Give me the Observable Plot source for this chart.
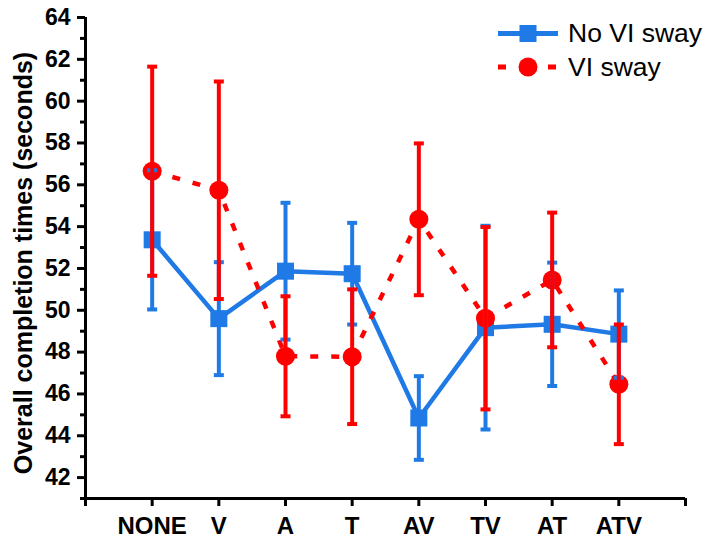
<!DOCTYPE html>
<html>
<head>
<meta charset="utf-8">
<script src="https://cdn.jsdelivr.net/npm/d3@7"></script>
<script src="https://cdn.jsdelivr.net/npm/@observablehq/plot@0.6"></script>
<style>
  html, body { margin: 0; padding: 0; background: #fff; }
  #chart { position: relative; width: 707px; height: 541px; }
</style>
</head>
<body>
<div id="chart"></div>
<script>
// Conditions (x axis categories)
const categories = ["NONE", "V", "A", "T", "AV", "TV", "AT", "ATV"];

// Mean completion time and error (seconds), no VI sway
const noSwayMean = [53.37, 49.60, 51.87, 51.75, 44.85, 49.17, 49.33, 48.86];
const noSwayErr  = [3.33, 2.70, 3.27, 2.43, 2.00, 4.87, 2.95, 2.09];

// Mean completion time and error (seconds), VI sway
const swayMean = [56.65, 55.74, 47.80, 47.78, 54.35, 49.62, 51.45, 46.46];
const swayErr  = [5.00, 5.20, 2.87, 3.22, 3.63, 4.36, 3.22, 2.86];

const seriesNames = ["No VI sway", "VI sway"];
const yTicks = [42, 44, 46, 48, 50, 52, 54, 56, 58, 60, 62, 64];
const yMinorTicks = [41, 43, 45, 47, 49, 51, 53, 55, 57, 59, 61, 63];
const yTitle = "Overall completion times (seconds)";

const BLUE = "#1f7ae6";
const RED = "#ff0000";

const toRows = (mean, err, series) =>
  categories.map((c, i) => ({
    pos: i + 1, label: c, series,
    mean: mean[i], lo: mean[i] - err[i], hi: mean[i] + err[i]
  }));
const noSway = toRows(noSwayMean, noSwayErr, seriesNames[0]);
const sway = toRows(swayMean, swayErr, seriesNames[1]);

const xDomain = [0, categories.length + 1];
const yDomain = [41, 64];

// small flat bar used as the error-bar cap
const capSymbol = { draw(ctx) { ctx.rect(-5, -2, 10, 4); } };

const errorBars = (rows, color) => [
  Plot.ruleX(rows, { x: "pos", y1: "lo", y2: "hi", stroke: color, strokeWidth: 4 }),
  Plot.dot(rows, { x: "pos", y: "lo", symbol: capSymbol, fill: color }),
  Plot.dot(rows, { x: "pos", y: "hi", symbol: capSymbol, fill: color })
];

const chart = Plot.plot({
  width: 707,
  height: 541,
  marginLeft: 85,
  marginRight: 22,
  marginTop: 17,
  marginBottom: 43,
  style: { fontFamily: "'Liberation Sans', Arial, sans-serif", color: "#000", background: "#fff", overflow: "visible" },
  x: { type: "linear", domain: xDomain },
  y: { domain: yDomain },
  marks: [
    // axes
    Plot.axisY({ ticks: yMinorTicks, tickSize: 5, strokeWidth: 3, tickFormat: () => "", label: null }),
    Plot.axisY({ ticks: yTicks, tickSize: 8, strokeWidth: 3, tickPadding: 7, fontSize: 23, fontWeight: "bold", label: null }),
    Plot.axisX({
      ticks: d3.range(xDomain[0], xDomain[1] + 1), tickSize: 8, strokeWidth: 3, tickPadding: 10,
      tickFormat: (i) => categories[i - 1] ?? "", fontSize: 24, fontWeight: "bold", label: null
    }),
    Plot.ruleX([xDomain[0]], { strokeWidth: 3 }),
    Plot.ruleY([yDomain[0]], { strokeWidth: 3 }),
    Plot.text([yTitle], {
      text: (d) => d, frameAnchor: "left", textAnchor: "middle", rotate: -90, dx: -62, dy: 5,
      fontSize: 25, fontWeight: "bold", fill: "#000"
    }),
    // series
    Plot.line(noSway, { x: "pos", y: "mean", stroke: BLUE, strokeWidth: 4.5, strokeLinejoin: "miter" }),
    Plot.dot(noSway, { x: "pos", y: "mean", symbol: "square", fill: BLUE, r: 9.6 }),
    Plot.line(sway, { x: "pos", y: "mean", stroke: RED, strokeWidth: 4.5, strokeDasharray: "8,13", strokeLinecap: "butt" }),
    Plot.dot(sway, { x: "pos", y: "mean", symbol: "circle", fill: RED, r: 9.5 }),
    ...errorBars(noSway, BLUE),
    ...errorBars(sway, RED)
  ]
});

document.getElementById("chart").appendChild(chart);

// legend in the upper right of the plot area
const svg = d3.select(chart);
const legend = svg.append("g")
  .attr("font-family", "'Liberation Sans', Arial, sans-serif")
  .attr("text-anchor", "start");
const row1 = legend.append("g").attr("transform", "translate(498,33.5)");
row1.append("line").attr("x1", 0).attr("x2", 60).attr("stroke", BLUE).attr("stroke-width", 5);
row1.append("rect").attr("x", 21.5).attr("y", -8.5).attr("width", 17).attr("height", 17).attr("fill", BLUE);
row1.append("text").attr("x", 70).attr("y", 8.5).attr("font-size", 26.5).attr("fill", "#000").text(seriesNames[0]);
const row2 = legend.append("g").attr("transform", "translate(498,67)");
row2.append("line").attr("x1", 0).attr("x2", 60).attr("stroke", RED).attr("stroke-width", 5).attr("stroke-dasharray", "8,42");
row2.append("circle").attr("cx", 30).attr("cy", 0).attr("r", 9.5).attr("fill", RED);
row2.append("text").attr("x", 70).attr("y", 8.5).attr("font-size", 26.5).attr("fill", "#000").text(seriesNames[1]);
</script>
</body>
</html>
